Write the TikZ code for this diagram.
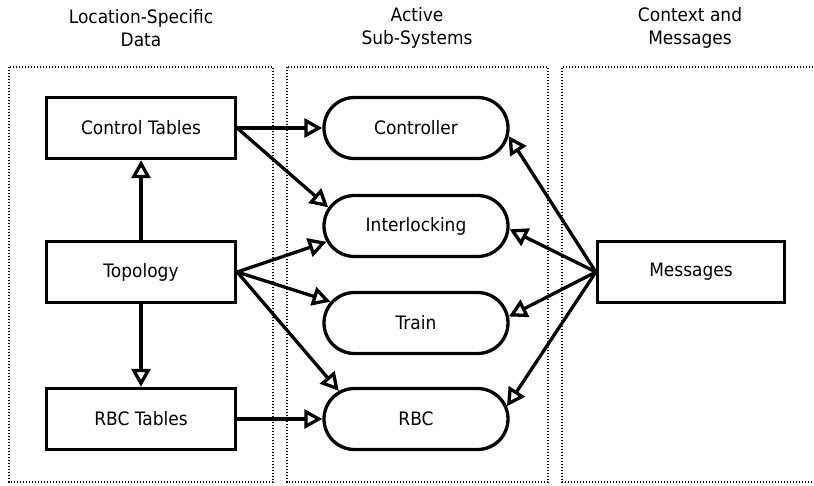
\documentclass[tikz,border=0pt]{standalone}
\usepackage{fontspec}
\setmainfont[FakeStretch=0.92]{DejaVu Sans}
\usetikzlibrary{arrows.meta,shapes.misc}
\begin{document}
\begin{tikzpicture}[x=1pt,y=-1pt,
  every node/.style={font=\fontsize{18.5}{22}\selectfont},
  region/.style={draw,line width=1.6pt,dash pattern=on 1.4pt off 1.6pt},
  hdr/.style={align=center,font=\fontsize{18.5}{23}\selectfont},
  databox/.style={draw,line width=3.3pt,rectangle,minimum width=189pt,minimum height=61pt,inner sep=0pt},
  sysbox/.style={draw,line width=3.3pt,rounded rectangle,minimum width=184pt,minimum height=61pt,inner sep=0pt},
  conn/.style={line width=3.3pt,-{Triangle[open,length=18pt,width=19pt]}}
]
\useasboundingbox (0,0) rectangle (814,485);
\fill[white] (0,0) rectangle (814,485);
% region frames
\draw[region] (9,67) rectangle (273,482);
\draw[region] (287,67) rectangle (548,482);
\draw[region] (816,67) -- (562,67) -- (562,482) -- (816,482);
% headers
\node[hdr] (h1) at (141,28) {Location-Specific\\Data};
\node[hdr] (h2) at (417,28) {Active\\Sub-Systems};
\node[hdr] (h3) at (690,28) {Context and\\Messages};
% nodes
\node[databox] (ct) at (141,128) {Control Tables};
\node[databox] (topo) at (141,272) {Topology};
\node[databox] (rbct) at (141,419) {RBC Tables};
\node[sysbox] (ctrl) at (416,128) {Controller};
\node[sysbox] (il) at (416,226) {Interlocking};
\node[sysbox] (train) at (416,323) {Train};
\node[sysbox] (rbc) at (416,419) {RBC};
\node[databox,minimum width=187pt] (msg) at (691,272) {Messages};
% connectors
\draw[conn] (ct.east) -- (ctrl.west);
\draw[conn] (ct.east) -- (il.168);
\draw[conn] (topo.north) -- (ct.south);
\draw[conn] (topo.south) -- (rbct.north);
\draw[conn] (topo.east) -- (il.190);
\draw[conn] (topo.east) -- (train.166);
\draw[conn] (topo.east) -- (rbc.160);
\draw[conn] (rbct.east) -- (rbc.west);
\draw[conn] (msg.west) -- (ctrl.-5);
\draw[conn] (msg.west) -- (il.-2);
\draw[conn] (msg.west) -- (train.4);
\draw[conn] (msg.west) -- (rbc.8);
\end{tikzpicture}
\end{document}
